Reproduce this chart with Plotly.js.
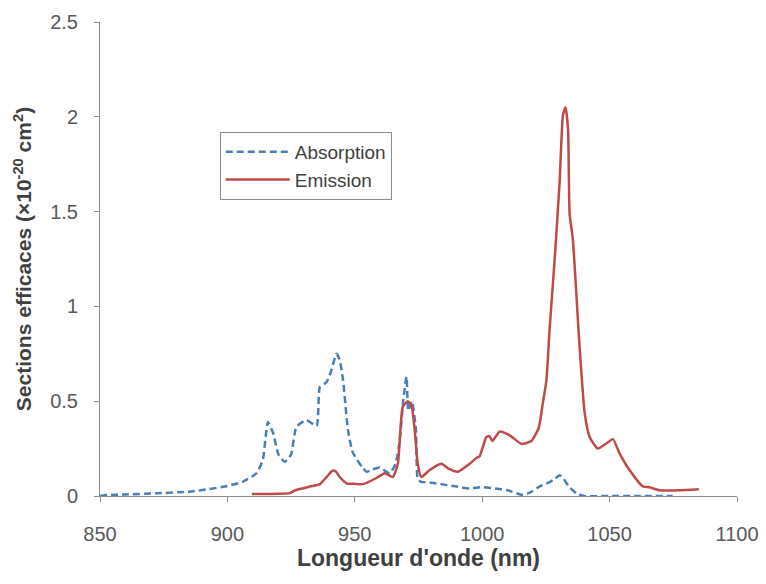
<!DOCTYPE html>
<html>
<head>
<meta charset="utf-8">
<script src="https://cdn.plot.ly/plotly-3.0.1.min.js"></script>
<style>html,body{margin:0;padding:0;background:#fff;}#chart{width:766px;height:584px;}</style>
</head>
<body>
<div id="chart"></div>
<script>
const absX = [850, 853, 860, 872, 885, 893, 900, 906, 911.4, 913.9, 915.9, 918, 920, 922.5, 925, 927.1, 931, 935, 936.3, 938.9, 940.5, 942.8, 944, 945.4, 947.3, 949.2, 953, 954.6, 957, 959.8, 963.7, 966, 967.6, 969, 970.3, 971, 972.4, 974, 974.7, 976, 980, 985, 990, 995, 1000.2, 1005, 1010, 1016, 1019, 1022.5, 1026, 1028.5, 1030.4, 1032, 1034, 1037, 1040, 1050, 1060, 1074.7];
const absY = [0.0, 0.005, 0.008, 0.014, 0.023, 0.037, 0.053, 0.075, 0.12, 0.19, 0.39, 0.33, 0.22, 0.18, 0.22, 0.365, 0.40, 0.37, 0.575, 0.60, 0.65, 0.75, 0.72, 0.61, 0.35, 0.23, 0.15, 0.128, 0.14, 0.15, 0.12, 0.17, 0.29, 0.50, 0.63, 0.45, 0.50, 0.35, 0.09, 0.075, 0.07, 0.06, 0.05, 0.04, 0.047, 0.04, 0.03, 0.005, 0.02, 0.05, 0.07, 0.09, 0.11, 0.09, 0.05, 0.014, 0.0, 0.0, 0.0, 0.0];
const emiX = [909.6, 915, 920, 924.5, 926.5, 932.4, 936.3, 938.9, 941.2, 942.5, 944.1, 946.7, 950, 953.3, 958.5, 961.8, 964.9, 966.9, 968.8, 970.8, 972.2, 973.5, 974.7, 976.1, 979.4, 984, 986.6, 990.5, 995.1, 997.7, 999, 1001.6, 1002.9, 1004, 1006.9, 1010.8, 1015.4, 1019.3, 1022.2, 1023.8, 1025.2, 1026.5, 1028.4, 1030.4, 1031.7, 1032.7, 1033.7, 1034.3, 1035.6, 1038.2, 1040.2, 1042.2, 1045.4, 1048.7, 1051.3, 1053.9, 1057.8, 1063.1, 1065.7, 1069.6, 1077.5, 1085];
const emiY = [0.01, 0.01, 0.012, 0.015, 0.03, 0.05, 0.063, 0.10, 0.133, 0.13, 0.10, 0.067, 0.064, 0.063, 0.095, 0.12, 0.10, 0.17, 0.47, 0.50, 0.48, 0.35, 0.17, 0.10, 0.137, 0.17, 0.146, 0.128, 0.17, 0.20, 0.21, 0.31, 0.316, 0.29, 0.34, 0.32, 0.275, 0.29, 0.36, 0.49, 0.61, 0.89, 1.24, 1.66, 2.01, 2.05, 1.93, 1.49, 1.35, 0.79, 0.44, 0.31, 0.25, 0.277, 0.30, 0.225, 0.137, 0.05, 0.046, 0.03, 0.03, 0.035];
const xTicks = [850, 900, 950, 1000, 1050, 1100];
const yTicks = [0, 0.5, 1, 1.5, 2, 2.5];
const yTickText = ['0', '0.5', '1', '1.5', '2', '2.5'];

const FONT = 'Liberation Sans, Arial, sans-serif';
const traces = [
  {x: absX, y: absY, type: 'scatter', mode: 'lines', name: 'Absorption',
   line: {color: '#4a7ebb', width: 2.5, dash: '7px,4px', shape: 'spline', smoothing: 0.5}},
  {x: emiX, y: emiY, type: 'scatter', mode: 'lines', name: 'Emission',
   line: {color: '#be4b48', width: 2.5, shape: 'spline', smoothing: 0.5}}
];
const layout = {
  width: 766, height: 584,
  margin: {l: 100, r: 29, t: 22, b: 88},
  paper_bgcolor: '#fff', plot_bgcolor: '#fff',
  font: {family: FONT, color: '#595959', size: 20},
  showlegend: true,
  legend: {x: 0.188, y: 0.768, xanchor: 'left', yanchor: 'top',
    bordercolor: '#8c8c8c', borderwidth: 1, bgcolor: '#fff', itemwidth: 64,
    font: {size: 19, color: '#404040', family: FONT}, tracegroupgap: 2},
  xaxis: {range: [850, 1100], tickvals: xTicks, ticktext: xTicks.map(String),
    showgrid: false, zeroline: false, showline: true, linecolor: '#8c8c8c', linewidth: 1,
    ticks: 'outside', ticklen: 5, tickcolor: '#8c8c8c', fixedrange: true,
    ticklabelstandoff: 15,
    tickfont: {size: 20, color: '#595959', family: FONT},
    title: {text: "Longueur d'onde (nm)", font: {size: 23, color: '#404040', family: FONT, weight: 'bold'}, standoff: 4}},
  yaxis: {range: [0, 2.5], tickvals: yTicks, ticktext: yTickText,
    showgrid: false, zeroline: false, showline: true, linecolor: '#8c8c8c', linewidth: 1,
    ticks: 'outside', ticklen: 5, tickcolor: '#8c8c8c', fixedrange: true,
    ticklabelstandoff: 12,
    tickfont: {size: 20, color: '#595959', family: FONT},
    title: {text: 'Sections efficaces (×10<sup>-20</sup> cm<sup>2</sup>)', font: {size: 21, color: '#404040', family: FONT, weight: 'bold'}, standoff: 12}}
};
Plotly.newPlot('chart', traces, layout, {displayModeBar: false, staticPlot: true});
</script>
</body>
</html>
